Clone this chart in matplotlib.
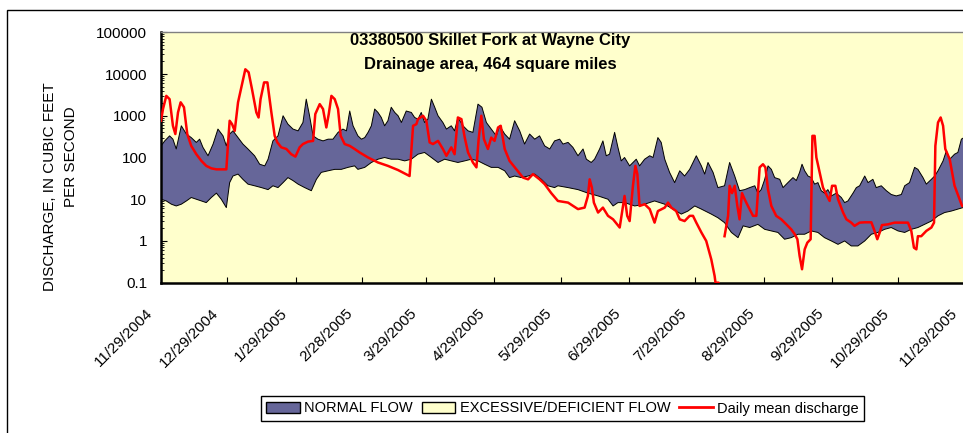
import numpy as np
import matplotlib
matplotlib.use("Agg")
import matplotlib.pyplot as plt
from matplotlib.patches import Patch, Rectangle
from matplotlib.lines import Line2D
from matplotlib.transforms import ScaledTranslation

plt.rcParams['font.family'] = ['Liberation Sans', 'DejaVu Sans']

# days counted from 11/29/2004
tick_days = [0, 30, 61, 91, 120, 151, 181, 212, 242, 273, 304, 334, 365]
tick_labels = ["11/29/2004", "12/29/2004", "1/29/2005", "2/28/2005", "3/29/2005",
               "4/29/2005", "5/29/2005", "6/29/2005", "7/29/2005", "8/29/2005",
               "9/29/2005", "10/29/2005", "11/29/2005"]
y_ticks = [0.1, 1, 10, 100, 1000, 10000, 100000]
y_labels = ["0.1", "1", "10", "100", "1000", "10000", "100000"]

# top of the normal-flow band
upper_day = [0, 1.7, 3.9, 5.4, 6.9, 9.2, 11.5, 13.7, 16.0, 17.5, 19.0, 21.3, 23.6, 25.8, 28.1,
             29.6, 31.1, 32.6, 34.9, 37.1, 39.4, 42.4, 44.7, 47.0, 48.5, 50.7, 53.0, 55.3, 57.5, 59.8,
             62.1, 64.3, 65.8, 67.3, 68.9, 71.1, 73.4, 75.7, 77.9, 80.2, 82.4, 84.0, 85.5, 87.0, 89.2,
             90.8, 92.3, 93.8, 95.3, 96.8, 98.3, 99.8, 101.3, 102.8, 104.3, 105.9, 107.4, 108.9, 111.1, 113.4,
             114.9, 116.4, 117.9, 119.4, 120.9, 122.5, 124.0, 125.5, 127.7, 129.3, 131.5, 133.0, 134.5, 136.8, 139.1,
             141.3, 143.6, 145.4, 147.4, 149.6, 151.9, 153.4, 155.7, 157.9, 160.2, 162.5, 164.7, 167.0, 169.3, 171.5,
             173.8, 176.1, 178.3, 180.6,
             182.1, 184.4, 186.6, 188.9, 191.2, 192.7, 194.9, 196.4, 198.7, 200.2, 201.7, 203.2, 205.5, 207.0, 208.5,
             210.0, 212.3, 215.3, 216.8, 219.1, 221.4, 222.9, 225.1, 226.6, 228.2, 230.4, 232.7, 235.0, 237.2, 239.5,
             242.5, 244.8, 246.3, 247.8, 250.1, 252.3, 255.3, 257.6, 259.9, 262.1, 264.4, 266.7, 269.0, 270.4,
             271.9, 273.5, 275.0, 276.5, 278.0, 280.3, 281.8, 284.0, 286.3, 287.8, 289.3, 290.4, 291.6, 293.1, 294.6,
             296.1, 297.6, 299.1, 300.6, 302.1, 303.7, 305.9, 308.2, 309.7, 311.2, 313.5, 315.0, 316.5, 318.8, 320.3,
             322.5, 324.0, 326.3, 328.6, 330.8, 333.1, 335.4, 336.9, 339.1, 341.4, 342.9, 345.2, 346.7, 349.0, 350.5,
             352.0, 354.3, 355.8, 357.3, 359.5, 361.0, 362.6, 365]
upper_q = [190, 250, 330, 275, 160, 575, 365, 300, 230, 275, 175, 110, 210, 480, 330,
           190, 365, 435, 300, 210, 160, 110, 69, 63, 91, 250, 330, 1000, 630, 480,
           435, 690, 2500, 1000, 330, 275, 250, 275, 275, 400, 480, 435, 1300, 575, 330,
           275, 300, 400, 575, 1450, 1200, 910, 575, 760, 1600, 1200, 1000, 690, 1300, 1200,
           910, 830, 1200, 690, 830, 2500, 1600, 1000, 690, 480, 575, 435, 910, 575, 435,
           400, 1900, 1600, 690, 480, 330, 575, 365, 275, 760, 435, 210, 365, 275, 330,
           190, 160, 250, 275,
           210, 230, 175, 110, 160, 91, 76, 91, 160, 250, 110, 120, 400, 175, 83,
           100, 63, 91, 63, 91, 110, 100, 300, 230, 91, 44, 25, 48, 36, 52,
           110, 63, 40, 76, 44, 19, 21, 76, 36, 16, 17, 19, 21, 14,
           17, 30, 63, 52, 33, 30, 19, 25, 33, 28, 44, 69, 48, 36, 33,
           23, 25, 16, 14, 17, 12, 14, 11, 8.3, 9.1, 14, 19, 21, 36, 25,
           30, 19, 21, 16, 13, 12, 13, 21, 25, 58, 52, 33, 23, 30, 36,
           48, 83, 145, 91, 120, 132, 275, 330]

# bottom of the normal-flow band
lower_day = [0, 2.4, 4.7, 6.9, 9.2, 11.5, 13.7, 16.0, 18.3, 20.5, 22.8, 25.1, 27.3, 29.6, 31.1,
             32.6, 34.9, 37.1, 39.4, 42.4, 45.5, 48.5, 50.7, 53.0, 55.3, 57.5, 59.8, 62.1, 65.1, 68.1,
             70.4, 72.6, 75.7, 78.7, 81.7, 84.7, 87.7,
             89.2, 92.3, 95.3, 98.3, 101.3, 104.3, 107.4, 110.4, 113.4, 116.4, 119.4, 122.5, 125.5, 128.5, 131.5,
             134.5, 137.6, 140.6, 143.6, 146.6, 149.6, 152.7, 155.7, 157.9, 160.2, 163.2, 166.3, 169.3, 172.3, 175.3,
             178.3,
             179.8, 184.4, 188.9, 193.4, 198.0, 202.5, 204.8, 207.0, 210.0, 214.6, 219.1, 223.6, 228.2, 231.9, 235.7,
             238.7, 241.8, 244.8, 249.3, 252.3, 255.3, 258.4, 261.4, 263.7, 266.7, 270.4,
             273.5, 276.5, 279.5, 282.5, 285.5, 288.6, 291.6, 294.6, 297.6, 300.6, 303.7, 306.7, 309.7, 312.7, 315.7,
             318.8, 321.8, 324.8, 327.8, 330.8, 333.9, 336.9, 339.9, 342.9, 345.9, 349.0, 352.0, 355.0, 358.0, 361.0,
             363.3, 365]
lower_q = [10, 9.1, 7.6, 6.9, 7.6, 9.1, 11, 10, 9.1, 8.3, 11, 14, 10, 6.3, 25,
           36, 40, 30, 23, 21, 19, 17, 21, 19, 25, 33, 28, 23, 19, 16,
           30, 44, 48, 52, 52, 58, 63,
           52, 58, 76, 91, 100, 91, 91, 83, 91, 120, 132, 100, 76, 91, 83,
           76, 83, 91, 83, 69, 58, 58, 48, 33, 36, 33, 36, 40, 30, 21,
           19,
           21, 19, 17, 14, 12, 10, 6.9, 8.3, 8.3, 6.9, 7.6, 9.1, 7.6, 5.8, 4.4,
           5.2, 6.9, 5.8, 4.4, 3.6, 2.75, 1.6, 1.2, 2.3, 2.1, 2.5,
           1.9, 1.74, 1.6, 1.1, 1.2, 1.45, 1.45, 1.74, 1.6, 1.2, 1.0, 0.83, 1.0, 0.76, 0.76,
           1.0, 1.45, 1.6, 1.9, 2.1, 1.74, 1.6, 1.9, 2.1, 2.5, 3.0, 4.0, 4.8, 5.2, 5.8,
           6.3, 6.6]

# daily mean discharge (nan = off the chart, no data drawn)
flow_day = [0, 0.9, 2.4, 3.9, 5.4, 6.5, 7.7, 8.9, 10.4, 11.9, 13.7, 16.0, 18.3, 20.5, 22.8,
            25.1, 29.6, 30.4, 31.1, 32.2, 33.4, 34.9, 36.4, 38.2, 39.7, 41.2, 43.2, 44.2, 45.1, 46.7,
            48.2, 50.0, 51.5, 52.7, 54.5, 56.8, 59.0, 60.9, 62.8, 64.3, 66.6, 68.9, 69.9, 71.9, 73.4,
            74.9, 76.0, 77.2, 78.7, 80.2, 81.4, 83.2, 85.5, 87.7, 90.0,
            93.8, 98.3, 102.8, 107.4, 112.6, 114.2, 115.7, 116.4, 118.7, 120.2, 121.7, 123.2, 125.5, 127.7, 129.3,
            131.5, 133.0, 134.5, 136.1, 137.6, 139.1, 141.3, 142.9, 143.9, 145.1, 146.3, 148.1, 149.6, 151.1, 152.7,
            153.9, 155.7, 157.9, 161.0, 164.0, 166.3, 168.5, 171.5, 173.8, 176.8, 179.8,
            184.4, 188.9, 191.9, 193.4, 194.2, 195.2, 196.1, 198.0, 200.2, 202.5, 204.8, 207.8, 209.3, 210.0, 211.2,
            212.3, 213.8, 214.9, 215.8, 216.8, 219.1, 221.4, 223.6, 225.1, 228.2, 229.7, 231.2, 233.4, 235.0, 237.2,
            239.5, 241.0, 242.5, 244.8, 247.0, 249.3, 250.8, 251.2, 252.6, 253.0, 253.5,
            255.3, 256.9, 257.6, 258.7, 259.9, 261.1, 262.1, 263.2, 264.4, 265.9, 268.2, 269.7, 271.2, 272.7, 273.8,
            275.0, 276.5, 278.7, 281.0, 283.3, 285.5, 287.1, 288.3, 289.3, 290.4, 291.6, 292.8, 294.3, 295.1, 296.1,
            296.9, 298.4, 299.9, 301.4, 302.9, 304.0, 305.5, 306.7, 309.0, 310.5, 312.7, 314.2, 316.5, 318.8, 321.8,
            323.0, 324.5, 325.6, 326.6, 329.3, 332.3, 335.4, 338.4, 339.9, 341.1, 342.2, 342.9, 344.4, 346.7, 349.0,
            350.2, 350.8, 352.0, 353.2, 354.3, 355.3, 357.3, 359.5, 361.8, 362.9, 365]
flow_q = [760, 1450, 3000, 2500, 575, 365, 1200, 2100, 1600, 365, 190, 120, 83, 63, 55,
          52, 52, 230, 760, 630, 435, 2100, 4800, 13000, 11000, 4400, 1200, 910, 2500, 6300,
          6300, 1200, 330, 230, 175, 160, 120, 105, 175, 210, 240, 250, 1100, 1900, 1450,
          525, 1100, 3000, 2500, 1450, 330, 210, 190, 160, 132,
          100, 76, 63, 50, 36, 575, 630, 830, 1000, 760, 230, 210, 250, 160, 110,
          175, 120, 910, 830, 300, 132, 76, 58, 275, 1000, 275, 160, 300, 250, 525,
          575, 160, 83, 52, 33, 30, 40, 30, 23, 14, 9.1,
          8.3, 5.8, 6.3, 12, 30, 19, 8.3, 4.8, 6.3, 4.0, 3.3, 2.1, 6.9, 12, 4.0,
          3.0, 21, 63, 40, 6.9, 7.6, 5.8, 2.75, 5.2, 6.3, 8.3, 6.3, 5.2, 3.3, 3.0,
          4.0, 4.0, 2.75, 1.6, 1.0, 0.36, 0.145, 0.1, 0.1, 0.05, np.nan,
          1.3, 4.0, 21, 14, 21, 6.9, 3.3, 14, 10, 6.9, 4.0, 4.0, 58, 69, 58,
          17, 6.9, 4.0, 3.3, 2.5, 1.9, 1.45, 1.1, 0.44, 0.21, 0.63, 0.91, 1.1, 330, 330,
          100, 44, 19, 13, 9.1, 21, 21, 10, 4.8, 3.3, 2.75, 2.3, 2.75, 2.8, 2.8,
          1.9, 1.1, 1.6, 2.4, 2.5, 2.75, 2.75, 2.75, 1.74, 0.69, 0.63, 1.3, 1.3, 1.74, 2.1,
          2.75, 190, 690, 910, 575, 160, 91, 21, 10, 6.9, 7.0]

band_color = '#666699'
bg_color = '#FFFFCC'

fig = plt.figure(figsize=(9.63, 4.33), dpi=100)
ax = fig.add_axes([161 / 963, (433 - 282.7) / 433, (966.7 - 161) / 963, (282.7 - 32.3) / 433])
ax.set_facecolor(bg_color)
ax.set_yscale('log')

ax.fill(np.r_[upper_day, lower_day[::-1]], np.r_[upper_q, lower_q[::-1]],
        facecolor=band_color, edgecolor='none', zorder=2)
ax.plot(upper_day, upper_q, color='black', lw=0.7, zorder=3)
ax.plot(lower_day, lower_q, color='black', lw=0.7, zorder=3)
ax.plot(flow_day, flow_q, color='#FF0000', lw=1.8, zorder=4)

ax.set_xlim(0, 365)
ax.set_ylim(0.1, 100000)
ax.set_xticks(tick_days)
ax.set_xticklabels(tick_labels, rotation=45, ha='right', fontsize=11)
ax.set_yticks(y_ticks)
ax.set_yticklabels(y_labels, fontsize=11)
ax.tick_params(axis='x', direction='in', length=4, pad=17)
ax.tick_params(axis='y', which='major', direction='in', length=4, pad=10)
ax.tick_params(axis='y', which='minor', direction='in', length=2)

# date labels sit a little left of their ticks
shift = ScaledTranslation(-6 / 100, 0, fig.dpi_scale_trans)
for lab in ax.get_xticklabels():
    lab.set_transform(lab.get_transform() + shift)

ax.spines['left'].set_linewidth(1.8)
ax.spines['bottom'].set_linewidth(1.8)
ax.spines['top'].set_color('#808080')
ax.spines['top'].set_linewidth(1.0)
ax.spines['right'].set_visible(False)

fig.text(490 / 963, 1 - 41 / 433, "03380500 Skillet Fork at Wayne City",
         ha='center', va='center', fontsize=12, fontweight='bold')
fig.text(490 / 963, 1 - 64.5 / 433, "Drainage area, 464 square miles",
         ha='center', va='center', fontsize=12, fontweight='bold')

fig.text(50 / 963, 1 - 187 / 433, "DISCHARGE, IN CUBIC FEET", rotation=90,
         ha='center', va='center', fontsize=11)
fig.text(71 / 963, 1 - 157 / 433, "PER SECOND", rotation=90,
         ha='center', va='center', fontsize=11)

# outer chart border (runs off the right and bottom)
fig.add_artist(Rectangle((6.5 / 963, -0.1), 1.2, 1.1 - 10 / 433, transform=fig.transFigure,
                         fill=False, edgecolor='black', lw=1.0))

handles = [Patch(facecolor=band_color, edgecolor='black', lw=1.0),
           Patch(facecolor=bg_color, edgecolor='black', lw=1.0),
           Line2D([], [], color='#FF0000', lw=2)]
leg = fig.legend(handles, ["NORMAL FLOW", "EXCESSIVE/DEFICIENT FLOW", "Daily mean discharge"],
                 loc='center', bbox_to_anchor=(562.5 / 963, 1 - 408.5 / 433), ncol=3,
                 fontsize=10.5, frameon=True, fancybox=False, edgecolor='black', framealpha=1,
                 handlelength=2.3, handletextpad=0.3, columnspacing=0.6, borderpad=0.4)
leg.get_frame().set_linewidth(1.0)

fig.savefig('out.png', dpi=100)
